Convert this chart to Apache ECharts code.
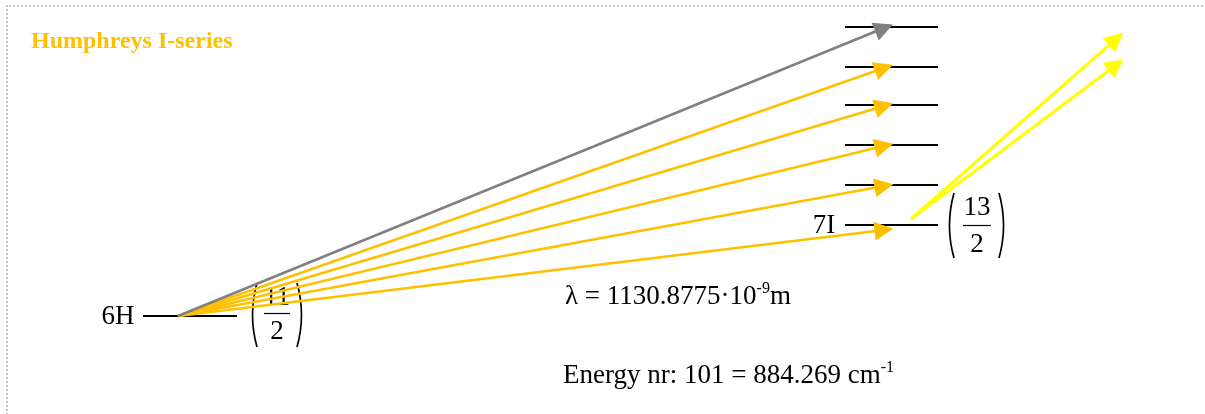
<!DOCTYPE html>
<html>
<head>
<meta charset="utf-8">
<script src="https://cdn.jsdelivr.net/npm/echarts@6/dist/echarts.min.js"></script>
<style>
  html, body { margin: 0; padding: 0; background: #fff; overflow: hidden; }
  #frame { position: absolute; left: 6px; top: 5px; width: 1195px; height: 420px;
           border-top: 2px dotted #c4c4c4; border-left: 2px dotted #c4c4c4; }
  #chart { position: absolute; left: 0; top: 0; width: 1205px; height: 414px; }
</style>
</head>
<body>
<div id="frame"></div>
<div id="chart"></div>
<script>
// Term symbols and J values of the two manifolds (lower, upper)
const termNames = ['6H', '7I'];
const jNumerators = ['11', '13'];
const jDenominators = ['2', '2'];

// Height of the 6H level and of the 7I sublevels (diagram units, counted downward)
const lowerLevelY = 316;
const upperLevelsY = [225, 185, 145, 105, 67, 27];
// Where each absorption arrow ends, one per 7I sublevel
const arrowEndY = [230, 186, 146, 106, 68, 28];
// Colour per absorption arrow: highlighted transitions vs. the remaining one
const arrowKinds = ['hl', 'hl', 'hl', 'hl', 'hl', 'other'];
// Emission arrows leaving the lowest 7I sublevel
const emissionEndY = [39, 65];

const titleText = 'Humphreys I-series';
const wavelength = '1130.8775';
const energyNr = 101;
const energyWavenumber = '884.269';

// ---- layout of the diagram ----
const W = 1205, H = 414;
const lowerX = [143, 237], lowerOrigin = 178;
const upperX = [845, 938], upperArrowX = 884;
const emissionStart = [911, 219], emissionEndX = 1116;
const colors = { hl: '#FFC000', other: '#808080', emission: '#FFFF00', ink: '#000000' };
const serif = '"Liberation Serif", "Times New Roman", "DejaVu Serif", serif';

// fraction blocks: [centre x, numerator y, bar y, denominator y, paren left, paren right, paren top, paren bottom, bar half width]
const fracLayout = [
  [277, 298, 313, 332, 253, 301, 283, 347, 13],
  [977, 208, 225, 245, 950, 1003, 193, 258, 14]
];

const levelLines = [{ coords: [[lowerX[0], lowerLevelY], [lowerX[1], lowerLevelY]] }]
  .concat(upperLevelsY.map(y => ({ coords: [[upperX[0], y], [upperX[1], y]] })));

const absorption = upperLevelsY.map((y, i) => ({
  coords: [[lowerOrigin, lowerLevelY], [upperArrowX, arrowEndY[i]]],
  lineStyle: { color: colors[arrowKinds[i]] },
  itemStyle: { color: colors[arrowKinds[i]] }
}));

const emission = emissionEndY.map(y => ({
  coords: [emissionStart, [emissionEndX, y]]
}));

// parentheses (slightly bowed strokes) and fraction bars
const fracStrokes = [];
fracLayout.forEach(f => {
  const [cx, ny, by, dy, pl, pr, pt, pb, hw] = f;
  fracStrokes.push({ coords: [[pl + 4, pt], [pl + 4, pb]], lineStyle: { curveness: -0.14 } });
  fracStrokes.push({ coords: [[pr - 4, pt], [pr - 4, pb]], lineStyle: { curveness: 0.14 } });
  fracStrokes.push({ coords: [[cx - hw, by], [cx + hw, by]], lineStyle: { curveness: 0, width: 1.2 } });
});

const textLabel = (x, y, text, align, extra) => ({
  value: [x, y],
  label: Object.assign({ formatter: text, align: align, verticalAlign: 'middle' }, extra || {})
});

const texts = [
  textLabel(31, 42, titleText, 'left', { fontWeight: 'bold', fontSize: 24, color: colors.hl }),
  textLabel(118, 317, termNames[0], 'center'),
  textLabel(824, 226, termNames[1], 'center'),
  textLabel(fracLayout[0][0], fracLayout[0][1], jNumerators[0], 'center'),
  textLabel(fracLayout[0][0], fracLayout[0][3], jDenominators[0], 'center'),
  textLabel(fracLayout[1][0], fracLayout[1][1], jNumerators[1], 'center'),
  textLabel(fracLayout[1][0], fracLayout[1][3], jDenominators[1], 'center'),
  textLabel(565, 297, '{a|λ = ' + wavelength + '·10}{s|-9}{a|m}', 'left'),
  textLabel(563, 376, '{a|Energy nr: ' + energyNr + ' = ' + energyWavenumber + ' cm}{s|-1}', 'left')
];

const chart = echarts.init(document.getElementById('chart'), null, { renderer: 'canvas' });
chart.setOption({
  animation: false,
  grid: { left: 0, right: 0, top: 0, bottom: 0 },
  xAxis: { type: 'value', min: 0, max: W, show: false },
  yAxis: { type: 'value', min: 0, max: H, inverse: true, show: false },
  series: [
    {
      type: 'scatter', z: 1, symbolSize: 0, silent: true,
      itemStyle: { opacity: 1 },
      label: {
        show: true, position: [0, 0], fontFamily: serif, fontSize: 27, color: colors.ink, opacity: 1,
        rich: {
          a: { fontFamily: serif, fontSize: 27, color: colors.ink, lineHeight: 32 },
          s: { fontFamily: serif, fontSize: 16, color: colors.ink, lineHeight: 16, verticalAlign: 'top' }
        }
      },
      data: texts
    },
    {
      type: 'lines', coordinateSystem: 'cartesian2d', z: 2, silent: true,
      symbol: ['none', 'none'],
      lineStyle: { color: colors.ink, width: 2, opacity: 1 },
      data: levelLines
    },
    {
      type: 'lines', coordinateSystem: 'cartesian2d', z: 2, silent: true,
      symbol: ['none', 'none'],
      lineStyle: { color: colors.ink, width: 1.7, opacity: 1 },
      data: fracStrokes
    },
    {
      type: 'lines', coordinateSystem: 'cartesian2d', z: 3, silent: true,
      symbol: ['none', 'triangle'], symbolSize: 19,
      lineStyle: { width: 2.5, opacity: 1 },
      data: absorption
    },
    {
      type: 'lines', coordinateSystem: 'cartesian2d', z: 3, silent: true,
      symbol: ['none', 'triangle'], symbolSize: 19,
      lineStyle: { color: colors.emission, width: 3, opacity: 1 },
      itemStyle: { color: colors.emission },
      data: emission
    }
  ]
});
</script>
</body>
</html>
